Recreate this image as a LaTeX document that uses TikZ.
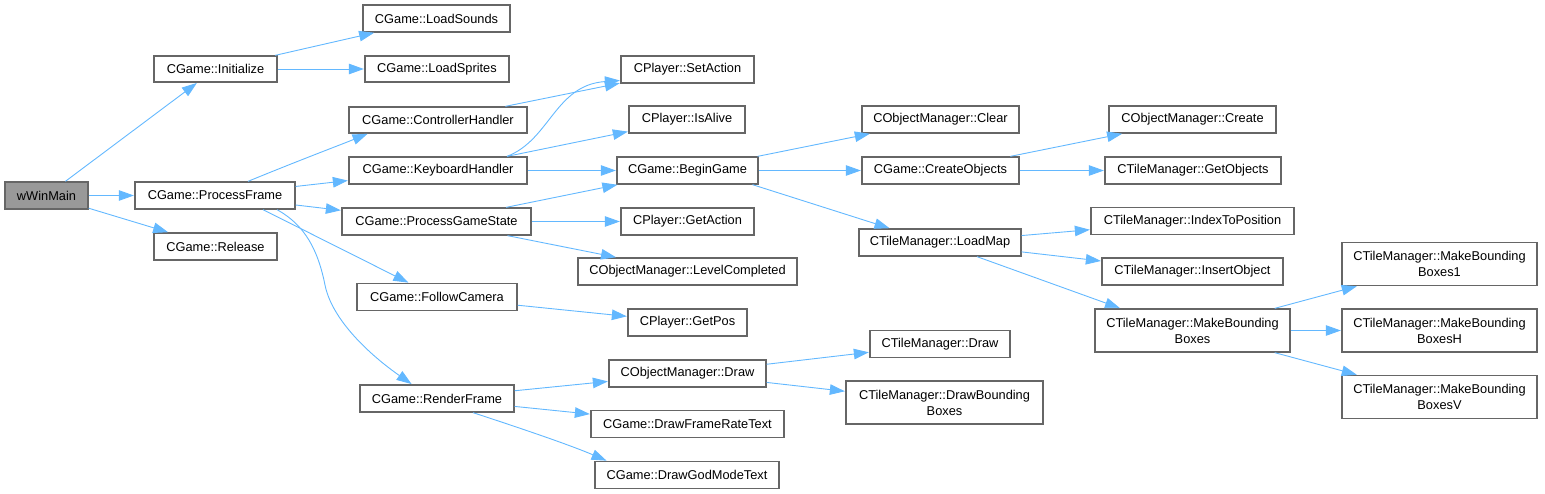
\documentclass[tikz,border=0pt]{standalone}
\usepackage{fontspec}
\setmainfont{Liberation Sans}
\usetikzlibrary{arrows.meta}
\definecolor{edgeblue}{HTML}{63B8FF}
\definecolor{boxgray}{HTML}{666666}
\definecolor{rootfill}{HTML}{999999}
\tikzset{
  box/.style={draw=boxgray, line width=1.3pt, fill=white, inner sep=0pt, align=center,
    font=\fontsize{12.8}{16}\selectfont},
  root/.style={box, fill=rootfill},
  edge/.style={draw=edgeblue, line width=0.9pt, -{Triangle[length=15pt,width=10.5pt]}, shorten >=0.5pt},
}
\begin{document}
\begin{tikzpicture}[x=1pt,y=-1pt]
\useasboundingbox (0,0) rectangle (1545,493);
% column 0
\node[root, minimum width=83pt, minimum height=27pt] (wm) at (46.5,195.5) {wWinMain};
% column 1
\node[box, minimum width=123pt, minimum height=26pt] (init) at (215.5,69) {CGame::Initialize};
\node[box, minimum width=160pt, minimum height=27pt] (pf) at (215,195.5) {CGame::ProcessFrame};
\node[box, minimum width=123pt, minimum height=27pt] (rel) at (215.5,246.5) {CGame::Release};
% column 2
\node[box, minimum width=147pt, minimum height=27pt] (ls) at (436.5,18.5) {CGame::LoadSounds};
\node[box, minimum width=144pt, minimum height=26pt] (lsp) at (437,69) {CGame::LoadSprites};
\node[box, minimum width=178pt, minimum height=26pt] (ch) at (438,120) {CGame::ControllerHandler};
\node[box, minimum width=178pt, minimum height=27pt] (kh) at (438,170.5) {CGame::KeyboardHandler};
\node[box, minimum width=189pt, minimum height=27pt] (pgs) at (436.5,221.5) {CGame::ProcessGameState};
\node[box, minimum width=160pt, minimum height=27pt] (fc) at (437,297) {CGame::FollowCamera};
\node[box, minimum width=154pt, minimum height=27pt] (rf) at (437,398.5) {CGame::RenderFrame};
% column 3
\node[box, minimum width=133pt, minimum height=27pt] (sa) at (687.5,69.5) {CPlayer::SetAction};
\node[box, minimum width=116pt, minimum height=27pt] (ia) at (687,119.5) {CPlayer::IsAlive};
\node[box, minimum width=141pt, minimum height=27pt] (bg) at (687.5,170.5) {CGame::BeginGame};
\node[box, minimum width=133pt, minimum height=27pt] (ga) at (687.5,221.5) {CPlayer::GetAction};
\node[box, minimum width=219pt, minimum height=27pt] (lc) at (687.5,271.5) {CObjectManager::LevelCompleted};
\node[box, minimum width=119pt, minimum height=27pt] (gp) at (687.5,322.5) {CPlayer::GetPos};
\node[box, minimum width=157pt, minimum height=27pt] (od) at (687.5,373.5) {CObjectManager::Draw};
\node[box, minimum width=193pt, minimum height=27pt] (dfrt) at (687.5,424) {CGame::DrawFrameRateText};
\node[box, minimum width=184pt, minimum height=27pt] (dgm) at (687,475) {CGame::DrawGodModeText};
% column 4
\node[box, minimum width=157pt, minimum height=27pt] (clr) at (940.5,119.5) {CObjectManager::Clear};
\node[box, minimum width=157pt, minimum height=27pt] (co) at (940.5,170.5) {CGame::CreateObjects};
\node[box, minimum width=162pt, minimum height=27pt] (lm) at (940,242.5) {CTileManager::LoadMap};
\node[box, minimum width=140pt, minimum height=27pt] (td) at (940,344) {CTileManager::Draw};
\node[box, minimum width=197pt, minimum height=43pt] (dbb) at (944.5,402.5) {CTileManager::DrawBounding\\Boxes};
% column 5
\node[box, minimum width=167pt, minimum height=27pt] (cr) at (1192.5,119.5) {CObjectManager::Create};
\node[box, minimum width=176pt, minimum height=27pt] (go) at (1193,170.5) {CTileManager::GetObjects};
\node[box, minimum width=203pt, minimum height=27pt] (itp) at (1192.5,221) {CTileManager::IndexToPosition};
\node[box, minimum width=181pt, minimum height=27pt] (io) at (1192.5,271.5) {CTileManager::InsertObject};
\node[box, minimum width=195pt, minimum height=43pt] (mbb) at (1192.5,330.5) {CTileManager::MakeBounding\\Boxes};
% column 6
\node[box, minimum width=195pt, minimum height=43pt] (mb1) at (1439.5,264) {CTileManager::MakeBounding\\Boxes1};
\node[box, minimum width=195pt, minimum height=43pt] (mbh) at (1439.5,330.5) {CTileManager::MakeBounding\\BoxesH};
\node[box, minimum width=195pt, minimum height=43pt] (mbv) at (1439.5,397) {CTileManager::MakeBounding\\BoxesV};

% edges
\draw[edge] (wm) -- (init);
\draw[edge] (wm) -- (pf);
\draw[edge] (wm) -- (rel);
\draw[edge] (init) -- (ls);
\draw[edge] (init) -- (lsp);
\draw[edge] ([xshift=33pt]pf.north) .. controls (300,160) and (340,145) .. ([xshift=-70pt]ch.south);
\draw[edge] (pf) -- (kh);
\draw[edge] (pf) -- (pgs);
\draw[edge] ([xshift=48pt]pf.south) -- (fc);
\draw[edge] ([xshift=62pt]pf.south) .. controls (305,225) and (318,250) .. (325,285)
   .. controls (332,320) and (370,355) .. ([xshift=-25pt]rf.north);
\draw[edge] (ch) -- (sa);
\draw[edge] ([xshift=69pt]kh.north) .. controls (550,140) and (555,85) .. ([yshift=-11pt]sa.west);
\draw[edge] (kh) -- (ia);
\draw[edge] (kh) -- (bg);
\draw[edge] (pgs) -- (bg);
\draw[edge] (pgs) -- (ga);
\draw[edge] (pgs) -- (lc);
\draw[edge] (bg) -- (clr);
\draw[edge] (bg) -- (co);
\draw[edge] ([xshift=65pt]bg.south) -- ([xshift=-50pt]lm.north);
\draw[edge] (co) -- (cr);
\draw[edge] (co) -- (go);
\draw[edge] (lm) -- (itp);
\draw[edge] (lm) -- (io);
\draw[edge] ([xshift=37pt]lm.south) -- ([xshift=-72pt]mbb.north);
\draw[edge] (mbb) -- (mb1);
\draw[edge] (mbb) -- (mbh);
\draw[edge] (mbb) -- (mbv);
\draw[edge] (fc) -- (gp);
\draw[edge] (rf) -- (od);
\draw[edge] (rf) -- (dfrt);
\draw[edge] ([xshift=36pt]rf.south) .. controls (520,428) and (570,445) .. ([xshift=-80pt]dgm.north);
\draw[edge] (od) -- (td);
\draw[edge] (od) -- (dbb);
\end{tikzpicture}
\end{document}
